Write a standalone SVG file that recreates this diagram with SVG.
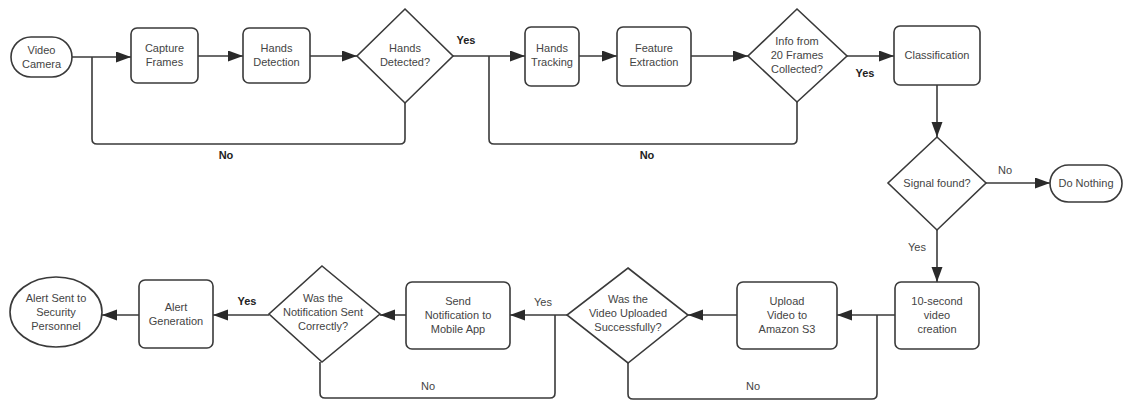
<svg xmlns="http://www.w3.org/2000/svg" width="1126" height="403" viewBox="0 0 1126 403">
<style>
.n{fill:#fff;stroke:#3a3a3a;stroke-width:1.6}
.t{font-family:"Liberation Sans",Arial,sans-serif;font-size:11px;fill:#444;text-anchor:middle}
.l{font-family:"Liberation Sans",Arial,sans-serif;font-size:11px;fill:#222;font-weight:bold;text-anchor:middle}
.c{fill:none;stroke:#3a3a3a;stroke-width:1.6}
.a{marker-end:url(#ah)}
</style>
<defs>
<marker id="ah" markerUnits="userSpaceOnUse" markerWidth="16" markerHeight="12" refX="15" refY="5.5" orient="auto">
<path d="M0,0 L15,5.5 L0,11 z" fill="#2a2a2a"/>
</marker>
</defs>
<rect width="1126" height="403" fill="#fff"/>
<g id="connectors">
<path class="c a" d="M72,57 H131"/>
<path class="c a" d="M198,56 H243"/>
<path class="c a" d="M310,56 H357"/>
<path class="c" d="M405,103 V139 Q405,144 400,144 H97 Q92,144 92,139 V57"/>
<path class="c a" d="M453,56 H525"/>
<path class="c a" d="M579,56 H617"/>
<path class="c a" d="M691,56 H748"/>
<path class="c" d="M797,102 V139 Q797,144 792,144 H494 Q489,144 489,139 V56"/>
<path class="c a" d="M847,56 H894"/>
<path class="c a" d="M937,85 V137"/>
<path class="c a" d="M986,183 H1050"/>
<path class="c a" d="M937,230 V282"/>
<path class="c a" d="M895,315 H837"/>
<path class="c" d="M628,363 V394 Q628,399 633,399 H872 Q877,399 877,394 V315"/>
<path class="c a" d="M737,315 H688"/>
<path class="c a" d="M567,315 H510"/>
<path class="c" d="M320,362 V393 Q320,398 325,398 H550 Q555,398 555,393 V315"/>
<path class="c a" d="M406,315 H380"/>
<path class="c a" d="M269,315 H213"/>
<path class="c a" d="M139,315 H102"/>
<text class="l" x="226" y="159">No</text>
<text class="l" x="466" y="44">Yes</text>
<text class="l" x="647" y="159">No</text>
<text class="l" x="865" y="77">Yes</text>
<text class="t" x="1005" y="174">No</text>
<text class="t" x="917" y="251">Yes</text>
<text class="t" x="753" y="390">No</text>
<text class="t" x="543" y="306">Yes</text>
<text class="t" x="428" y="390">No</text>
<text class="l" x="247" y="305">Yes</text>
</g>
<g id="video-camera">
<rect class="n" x="11" y="37" width="61" height="40" rx="20"/>
<text class="t" x="41.5" y="54">Video</text>
<text class="t" x="41.5" y="68">Camera</text>
</g>
<g id="capture-frames">
<rect class="n" x="131" y="28" width="67" height="55" rx="6"/>
<text class="t" x="164.5" y="52">Capture</text>
<text class="t" x="164.5" y="66">Frames</text>
</g>
<g id="hands-detection">
<rect class="n" x="243" y="28" width="67" height="55" rx="6"/>
<text class="t" x="276.5" y="52">Hands</text>
<text class="t" x="276.5" y="66">Detection</text>
</g>
<g id="hands-detected">
<polygon class="n" points="405,9 453,56 405,103 357,56"/>
<text class="t" x="405" y="52">Hands</text>
<text class="t" x="405" y="66">Detected?</text>
</g>
<g id="hands-tracking">
<rect class="n" x="525" y="27" width="54" height="59" rx="6"/>
<text class="t" x="552" y="52">Hands</text>
<text class="t" x="552" y="66">Tracking</text>
</g>
<g id="feature-extraction">
<rect class="n" x="617" y="27" width="74" height="59" rx="6"/>
<text class="t" x="654" y="52">Feature</text>
<text class="t" x="654" y="66">Extraction</text>
</g>
<g id="info-frames">
<polygon class="n" points="797,9 847,56 797,102 748,56"/>
<text class="t" x="797" y="45">Info from</text>
<text class="t" x="797" y="59">20 Frames</text>
<text class="t" x="797" y="73">Collected?</text>
</g>
<g id="classification">
<rect class="n" x="894" y="26" width="86" height="59" rx="6"/>
<text class="t" x="937" y="59">Classification</text>
</g>
<g id="signal-found">
<polygon class="n" points="937,137 986,183 937,230 888,183"/>
<text class="t" x="937" y="187">Signal found?</text>
</g>
<g id="do-nothing">
<rect class="n" x="1050" y="165" width="72" height="37" rx="18.5"/>
<text class="t" x="1086" y="187">Do Nothing</text>
</g>
<g id="video-creation">
<rect class="n" x="895" y="282" width="84" height="67" rx="6"/>
<text class="t" x="937" y="305">10-second</text>
<text class="t" x="937" y="319">video</text>
<text class="t" x="937" y="333">creation</text>
</g>
<g id="upload-video">
<rect class="n" x="737" y="282" width="100" height="67" rx="6"/>
<text class="t" x="787" y="305">Upload</text>
<text class="t" x="787" y="319">Video to</text>
<text class="t" x="787" y="333">Amazon S3</text>
</g>
<g id="video-uploaded">
<polygon class="n" points="628,268 688,315 628,363 567,315"/>
<text class="t" x="628" y="303">Was the</text>
<text class="t" x="628" y="317">Video Uploaded</text>
<text class="t" x="628" y="331">Successfully?</text>
</g>
<g id="send-notification">
<rect class="n" x="406" y="282" width="104" height="67" rx="6"/>
<text class="t" x="458" y="305">Send</text>
<text class="t" x="458" y="319">Notification to</text>
<text class="t" x="458" y="333">Mobile App</text>
</g>
<g id="notification-sent">
<polygon class="n" points="322,266 380,314 322,362 269,314"/>
<text class="t" x="323" y="302">Was the</text>
<text class="t" x="323" y="316">Notification Sent</text>
<text class="t" x="323" y="330">Correctly?</text>
</g>
<g id="alert-generation">
<rect class="n" x="139" y="280" width="74" height="68" rx="6"/>
<text class="t" x="176" y="311">Alert</text>
<text class="t" x="176" y="325">Generation</text>
</g>
<g id="alert-sent">
<ellipse class="n" cx="56" cy="312" rx="46" ry="35"/>
<text class="t" x="56" y="302">Alert Sent to</text>
<text class="t" x="56" y="316">Security</text>
<text class="t" x="56" y="330">Personnel</text>
</g>
</svg>
